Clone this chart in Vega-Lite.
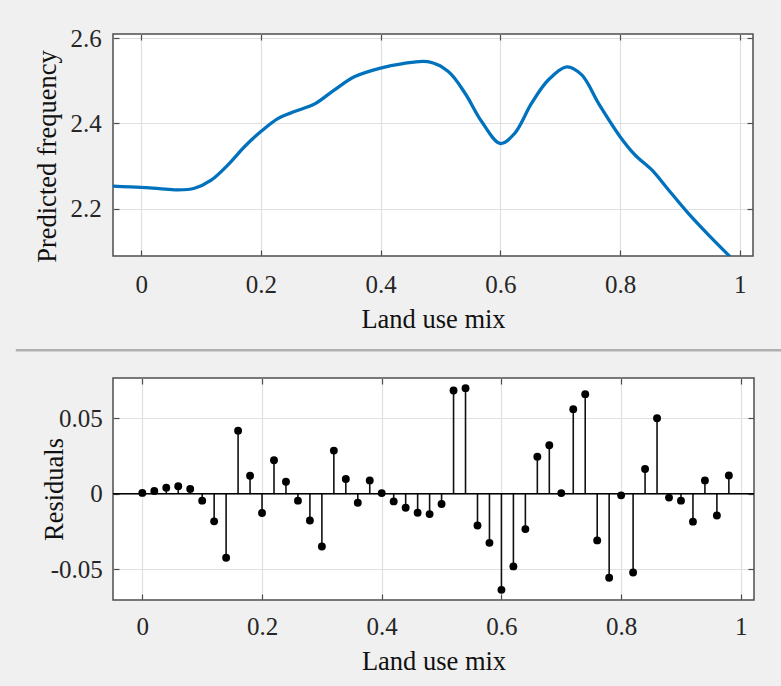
{
  "$schema": "https://vega.github.io/schema/vega-lite/v6.json",
  "background": "#f0f0f0",
  "padding": {"left": 13, "top": 25, "right": 0, "bottom": 11},
  "bounds": "flush",
  "spacing": 122,
  "datasets": {
    "curve": [
      {"x": -0.047, "y": 2.253}, {"x": 0.0, "y": 2.25}, {"x": 0.03, "y": 2.247}, {"x": 0.061, "y": 2.244},
      {"x": 0.089, "y": 2.248}, {"x": 0.117, "y": 2.267}, {"x": 0.145, "y": 2.303}, {"x": 0.173, "y": 2.346},
      {"x": 0.2, "y": 2.381}, {"x": 0.229, "y": 2.412}, {"x": 0.256, "y": 2.428}, {"x": 0.29, "y": 2.446},
      {"x": 0.323, "y": 2.479}, {"x": 0.357, "y": 2.51}, {"x": 0.4, "y": 2.53}, {"x": 0.435, "y": 2.54},
      {"x": 0.479, "y": 2.545}, {"x": 0.513, "y": 2.522}, {"x": 0.541, "y": 2.471}, {"x": 0.569, "y": 2.404},
      {"x": 0.6, "y": 2.353}, {"x": 0.624, "y": 2.377}, {"x": 0.652, "y": 2.447}, {"x": 0.68, "y": 2.502},
      {"x": 0.711, "y": 2.533}, {"x": 0.736, "y": 2.514}, {"x": 0.764, "y": 2.447}, {"x": 0.8, "y": 2.369},
      {"x": 0.825, "y": 2.326}, {"x": 0.853, "y": 2.291}, {"x": 0.881, "y": 2.244}, {"x": 0.914, "y": 2.189},
      {"x": 0.948, "y": 2.138}, {"x": 0.984, "y": 2.087}
    ],
    "resid": [
      {"x": 0.0, "r": 0.0005}, {"x": 0.02, "r": 0.0018}, {"x": 0.04, "r": 0.004}, {"x": 0.06, "r": 0.0049},
      {"x": 0.08, "r": 0.0031}, {"x": 0.1, "r": -0.0046}, {"x": 0.12, "r": -0.0183}, {"x": 0.14, "r": -0.0424},
      {"x": 0.16, "r": 0.0417}, {"x": 0.18, "r": 0.0119}, {"x": 0.2, "r": -0.0128}, {"x": 0.22, "r": 0.0221},
      {"x": 0.24, "r": 0.0079}, {"x": 0.26, "r": -0.0046}, {"x": 0.28, "r": -0.0177}, {"x": 0.3, "r": -0.0349},
      {"x": 0.32, "r": 0.0285}, {"x": 0.34, "r": 0.0097}, {"x": 0.36, "r": -0.006}, {"x": 0.38, "r": 0.0088},
      {"x": 0.4, "r": 0.0004}, {"x": 0.42, "r": -0.0051}, {"x": 0.44, "r": -0.0093}, {"x": 0.46, "r": -0.0126},
      {"x": 0.48, "r": -0.0135}, {"x": 0.5, "r": -0.0068}, {"x": 0.52, "r": 0.0682}, {"x": 0.54, "r": 0.0698},
      {"x": 0.56, "r": -0.021}, {"x": 0.58, "r": -0.0325}, {"x": 0.6, "r": -0.0636}, {"x": 0.62, "r": -0.0481},
      {"x": 0.64, "r": -0.0234}, {"x": 0.66, "r": 0.0245}, {"x": 0.68, "r": 0.032}, {"x": 0.7, "r": 0.0004},
      {"x": 0.72, "r": 0.0559}, {"x": 0.74, "r": 0.0658}, {"x": 0.76, "r": -0.0309}, {"x": 0.78, "r": -0.0556},
      {"x": 0.8, "r": -0.0011}, {"x": 0.82, "r": -0.0521}, {"x": 0.84, "r": 0.0163}, {"x": 0.86, "r": 0.0499},
      {"x": 0.88, "r": -0.0026}, {"x": 0.9, "r": -0.0046}, {"x": 0.92, "r": -0.0185}, {"x": 0.94, "r": 0.0088},
      {"x": 0.96, "r": -0.0144}, {"x": 0.98, "r": 0.0121}
    ]
  },
  "vconcat": [
    {
      "width": 640,
      "height": 222,
      "data": {"name": "curve"},
      "layer": [
        {
          "mark": {"type": "line", "color": "#0072BD", "strokeWidth": 3.3, "interpolate": "catmull-rom", "clip": true},
          "encoding": {
            "x": {"field": "x", "type": "quantitative",
              "scale": {"domain": [-0.047, 1.022], "nice": false, "zero": false},
              "axis": {"orient": "bottom", "values": [0, 0.2, 0.4, 0.6, 0.8, 1], "format": "~g", "grid": true,
                "labelPadding": 22.5, "title": "Land use mix", "titlePadding": 9}},
            "y": {"field": "y", "type": "quantitative",
              "scale": {"domain": [2.089, 2.61], "nice": false, "zero": false},
              "axis": {"orient": "left", "values": [2.2, 2.4, 2.6], "format": ".1f", "grid": true,
                "labelPadding": 17.7, "title": "Predicted frequency", "titlePadding": 9, "titleY": 122}}
          }
        },
        {
          "mark": {"type": "point", "opacity": 0, "clip": true},
          "encoding": {
            "x": {"field": "x", "type": "quantitative",
              "scale": {"domain": [-0.047, 1.022], "nice": false, "zero": false},
              "axis": {"orient": "top", "values": [0, 0.2, 0.4, 0.6, 0.8, 1], "labels": false, "grid": false, "title": null}},
            "y": {"field": "y", "type": "quantitative",
              "scale": {"domain": [2.089, 2.61], "nice": false, "zero": false},
              "axis": {"orient": "right", "values": [2.2, 2.4, 2.6], "labels": false, "grid": false, "title": null}}
          }
        }
      ],
      "resolve": {"axis": {"x": "independent", "y": "independent"}}
    },
    {
      "width": 641,
      "height": 222,
      "layer": [
        {
          "data": {"values": [{}]},
          "mark": {"type": "rule", "color": "#b0b0b0", "strokeWidth": 2.5, "clip": false},
          "encoding": {
            "x": {"datum": -0.2115, "type": "quantitative", "scale": {"domain": [-0.049, 1.022], "nice": false, "zero": false}, "axis": null},
            "x2": {"datum": 1.073},
            "y": {"datum": 0.0948, "type": "quantitative", "scale": {"domain": [-0.0703, 0.0765], "nice": false, "zero": false}, "axis": null}
          }
        },
        {
          "data": {"name": "resid"},
          "mark": {"type": "rule", "color": "#111111", "strokeWidth": 1.6},
          "encoding": {
            "x": {"field": "x", "type": "quantitative",
              "scale": {"domain": [-0.049, 1.022], "nice": false, "zero": false},
              "axis": {"orient": "bottom", "values": [0, 0.2, 0.4, 0.6, 0.8, 1], "format": "~g", "grid": true,
                "labelPadding": 20.7, "title": "Land use mix", "titlePadding": 9}},
            "y": {"field": "r", "type": "quantitative",
              "scale": {"domain": [-0.0703, 0.0765], "nice": false, "zero": false},
              "axis": {"orient": "left", "values": [-0.05, 0, 0.05], "grid": true,
                "labelExpr": "datum.value == 0 ? '0' : datum.value < 0 ? '-' + format(-datum.value, '.2f') : format(datum.value, '.2f')",
                "labelPadding": 16.7, "title": "Residuals", "titlePadding": -18}},
            "y2": {"datum": 0}
          }
        },
        {
          "data": {"values": [{}]},
          "mark": {"type": "rule", "color": "#000000", "strokeWidth": 1.6},
          "encoding": {
            "y": {"datum": 0, "type": "quantitative", "scale": {"domain": [-0.0703, 0.0765], "nice": false, "zero": false}, "axis": null}
          }
        },
        {
          "data": {"name": "resid"},
          "mark": {"type": "circle", "color": "#000000", "size": 62, "opacity": 1},
          "encoding": {
            "x": {"field": "x", "type": "quantitative", "scale": {"domain": [-0.049, 1.022], "nice": false, "zero": false}, "axis": null},
            "y": {"field": "r", "type": "quantitative", "scale": {"domain": [-0.0703, 0.0765], "nice": false, "zero": false}, "axis": null}
          }
        },
        {
          "data": {"name": "resid"},
          "mark": {"type": "point", "opacity": 0},
          "encoding": {
            "x": {"field": "x", "type": "quantitative",
              "scale": {"domain": [-0.049, 1.022], "nice": false, "zero": false},
              "axis": {"orient": "top", "values": [0, 0.2, 0.4, 0.6, 0.8, 1], "labels": false, "grid": false, "title": null}},
            "y": {"field": "r", "type": "quantitative",
              "scale": {"domain": [-0.0703, 0.0765], "nice": false, "zero": false},
              "axis": {"orient": "right", "values": [-0.05, 0, 0.05], "labels": false, "grid": false, "title": null}}
          }
        }
      ],
      "resolve": {"axis": {"x": "independent", "y": "independent"}}
    }
  ],
  "config": {
    "font": "Liberation Serif",
    "view": {"stroke": "#4d4d4d", "strokeWidth": 1.5, "fill": "#ffffff"},
    "axis": {
      "labelFont": "Liberation Serif", "labelFontSize": 25, "labelColor": "#262626",
      "labelFlush": false, "labelOverlap": false,
      "titleFont": "Liberation Serif", "titleFontSize": 26.5, "titleFontWeight": "normal", "titleColor": "#111111",
      "domain": false, "tickColor": "#4d4d4d", "tickSize": -6, "tickWidth": 1.2,
      "gridColor": "#e0e0e0", "gridWidth": 1.2
    }
  }
}
